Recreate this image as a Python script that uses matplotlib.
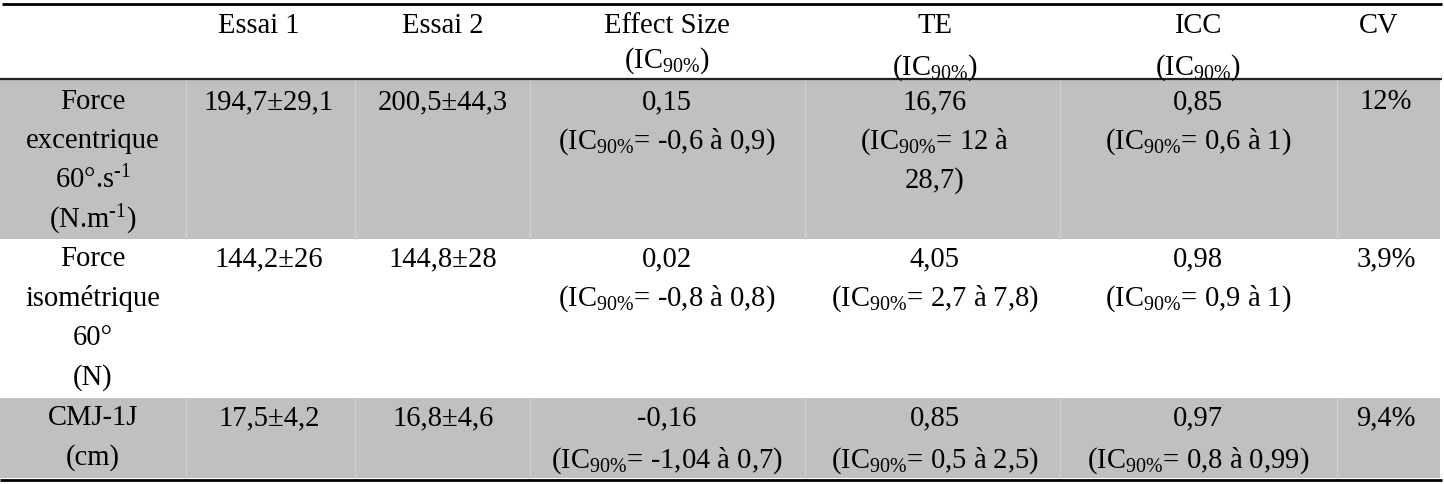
import matplotlib
matplotlib.use('Agg')
import matplotlib.pyplot as plt
from matplotlib.patches import Rectangle

plt.rcParams['font.family'] = 'Liberation Serif'
plt.rcParams['mathtext.fontset'] = 'custom'
plt.rcParams['mathtext.rm'] = 'Liberation Serif'
plt.rcParams['mathtext.it'] = 'Liberation Serif:italic'

IC = r'(IC$_{\mathrm{90\%}}$'

# table content
headers = ['', 'Essai 1', 'Essai 2', 'Effect Size', 'TE', 'ICC', 'CV']
headers2 = ['', '', '', IC + ')', IC + ')', IC + ')', '']
row_labels = [['Force', 'excentrique', r'60°.s$^{\text{-1}}$', r'(N.m$^{\text{-1}}$)'],
              ['Force', 'isométrique', '60°', '(N)'],
              ['CMJ-1J', '(cm)']]
essai1 = ['194,7±29,1', '144,2±26', '17,5±4,2']
essai2 = ['200,5±44,3', '144,8±28', '16,8±4,6']
es = ['0,15', '0,02', '-0,16']
es_ic = ['-0,6 à 0,9', '-0,8 à 0,8', '-1,04 à 0,7']
te = ['16,76', '4,05', '0,85']
te_ic = ['12 à 28,7', '2,7 à 7,8', '0,5 à 2,5']
icc = ['0,85', '0,98', '0,97']
icc_ic = ['0,6 à 1', '0,9 à 1', '0,8 à 0,99']
cv = ['12%', '3,9%', '9,4%']

# layout (pixels)
col_edges = [0, 186, 355, 530, 805, 1060, 1337, 1442]
val_x = [93, 269, 443, 667, 935, 1198, 1386]
head_x = [93, 259, 443, 667, 935, 1198, 1379]
row_top = [80, 239, 398]
row_bot = [239, 398, 478]
row_base = [109, 266, 425]
step = 39.5
shaded = [True, False, True]
gray = '#c0c0c0'
fs = 20.6

fig = plt.figure(figsize=(14.44, 4.84), dpi=100)
ax = fig.add_axes([0, 0, 1, 1])
ax.set_xlim(0, 1444)
ax.set_ylim(484, 0)
ax.axis('off')

for i in range(3):
    if shaded[i]:
        ax.add_patch(Rectangle((0, row_top[i]), 1440, row_bot[i] - row_top[i],
                               facecolor=gray, edgecolor='none'))
        for x in col_edges[1:-1]:
            ax.plot([x, x], [row_top[i], row_bot[i]], color='#d2d2d2', lw=0.8)

# header
for j in range(7):
    ax.text(head_x[j], 33, headers[j], ha='center', va='baseline', fontsize=fs)
    if headers2[j]:
        yb = 68 if j == 3 else 75
        ax.text(head_x[j], yb, headers2[j], ha='center', va='baseline', fontsize=fs)

# body
for i in range(3):
    cells = [row_labels[i],
             [essai1[i]],
             [essai2[i]],
             [es[i], IC + '= ' + es_ic[i] + ')'],
             [te[i], IC + '= ' + te_ic[i] + ')'],
             [icc[i], IC + '= ' + icc_ic[i] + ')'],
             [cv[i]]]
    if i == 0:
        a, b = cells[4][1].rsplit(' ', 1)
        cells[4] = [cells[4][0], a, b]
    for j, lines in enumerate(cells):
        for k, s in enumerate(lines):
            yb = row_base[i] + k * step
            if i == 2 and k == 1 and j >= 3:
                yb += 3
            ax.text(val_x[j], yb, s, ha='center', va='baseline', fontsize=fs)

# rules
ax.plot([2, 1442], [3.5, 3.5], color='black', lw=2.0, solid_capstyle='butt')
ax.plot([0, 1442], [79, 79], color='#222222', lw=1.6, solid_capstyle='butt')
ax.plot([0, 1442], [479.5, 479.5], color='black', lw=2.0, solid_capstyle='butt')

fig.savefig('out.png', dpi=100)
